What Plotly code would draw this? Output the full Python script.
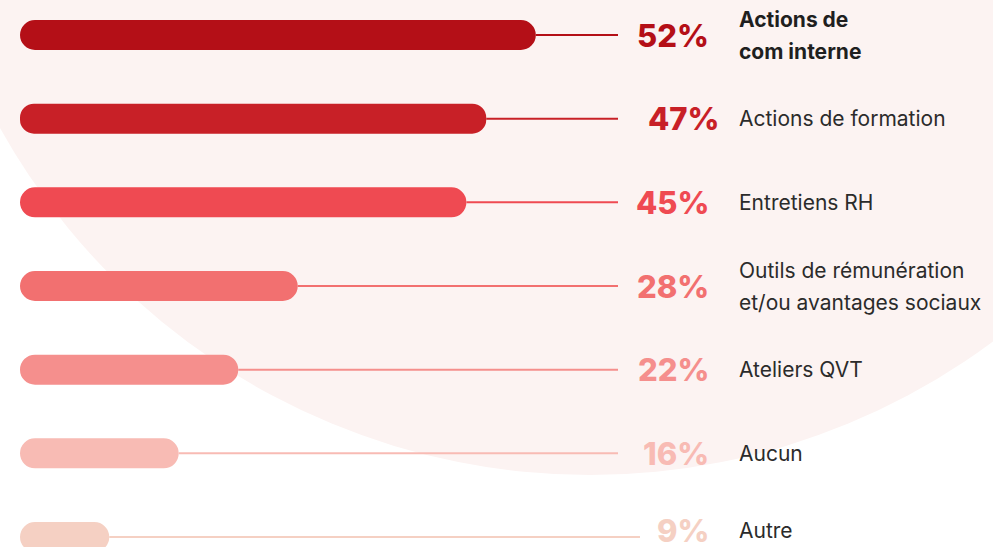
import plotly.graph_objects as go

# Survey answers, top to bottom
categories = [
    "Actions de\ncom interne",
    "Actions de formation",
    "Entretiens RH",
    "Outils de rémunération\net/ou avantages sociaux",
    "Ateliers QVT",
    "Aucun",
    "Autre",
]
values = [52, 47, 45, 28, 22, 16, 9]
colors = ["#B40F17", "#C82027", "#EF4A52", "#F27070", "#F58F8D", "#F8BBB4", "#F5D0C3"]

# Layout helpers (pixels of the 993x547 page)
W, H = 993, 547
X0_PX = 20          # where 0% sits
PX_PER_PCT = 9.92
Y0_PX = 35          # centre of the first row
ROW_PX = 83.67      # distance between rows
BAR_PX = 30
LINE_END_PX = [618, 618, 618, 618, 618, 618, 640]
PCT_RIGHT_PX = [711, 721, 711, 711, 711, 711, 711]
LABEL_X_PX = 737
TEXT_YSHIFT = [0, 0, 0, 0, 0, 0, 7]


def px_to_x(px):
    return (px - X0_PX) / PX_PER_PCT


fig = go.Figure()

# Background blob
cx, cy, r = 590, -200, 675
fig.add_shape(
    type="circle", xref="paper", yref="paper", layer="below",
    x0=(cx - r) / W, x1=(cx + r) / W,
    y0=1 - (cy + r) / H, y1=1 - (cy - r) / H,
    fillcolor="#FCF3F2", line_width=0,
)

for i, (v, c) in enumerate(zip(values, colors)):
    # connector line from the bar end to the percentage
    fig.add_trace(go.Scatter(
        x=[v, px_to_x(LINE_END_PX[i])], y=[i, i], mode="lines",
        line=dict(color=c, width=2), hoverinfo="skip", showlegend=False,
    ))
    # rounded pill bar
    fig.add_trace(go.Bar(
        x=[v], y=[i], base=[0], orientation="h",
        width=BAR_PX / ROW_PX,
        marker=dict(color=c, cornerradius=BAR_PX / 2, line_width=0),
        hovertemplate=f"{categories[i].replace(chr(10), ' ')}: {v}%<extra></extra>",
        showlegend=False,
    ))

    fig.add_annotation(
        x=PCT_RIGHT_PX[i] / W, xref="paper", y=i, yref="y",
        xanchor="right", yanchor="middle", yshift=TEXT_YSHIFT[i],
        text=f"{v}%", showarrow=False,
        font=dict(family="Inter", size=31, color=c, weight=800),
    )

    lines = categories[i].split("\n")
    offsets = [0] if len(lines) == 1 else [16, -16]
    for line, off in zip(lines, offsets):
        fig.add_annotation(
            x=LABEL_X_PX / W, xref="paper", y=i, yref="y",
            xanchor="left", yanchor="middle", yshift=TEXT_YSHIFT[i] + off,
            text=line, showarrow=False,
            font=dict(family="Inter", size=21,
                      color="#1f1f1f" if i == 0 else "#2b2b2b",
                      weight=700 if i == 0 else 400),
        )

fig.update_layout(
    width=W, height=H,
    margin=dict(l=0, r=0, t=0, b=0),
    barmode="overlay",
    paper_bgcolor="white", plot_bgcolor="white",
    xaxis=dict(range=[px_to_x(0), px_to_x(W)], visible=False, fixedrange=True),
    yaxis=dict(range=[(H - Y0_PX) / ROW_PX, -Y0_PX / ROW_PX],
               visible=False, fixedrange=True),
)

# drop the default page margin so the chart fills the window
fig.write_html("out.html", config={"displayModeBar": False},
               post_script="document.body.style.margin='0';")
